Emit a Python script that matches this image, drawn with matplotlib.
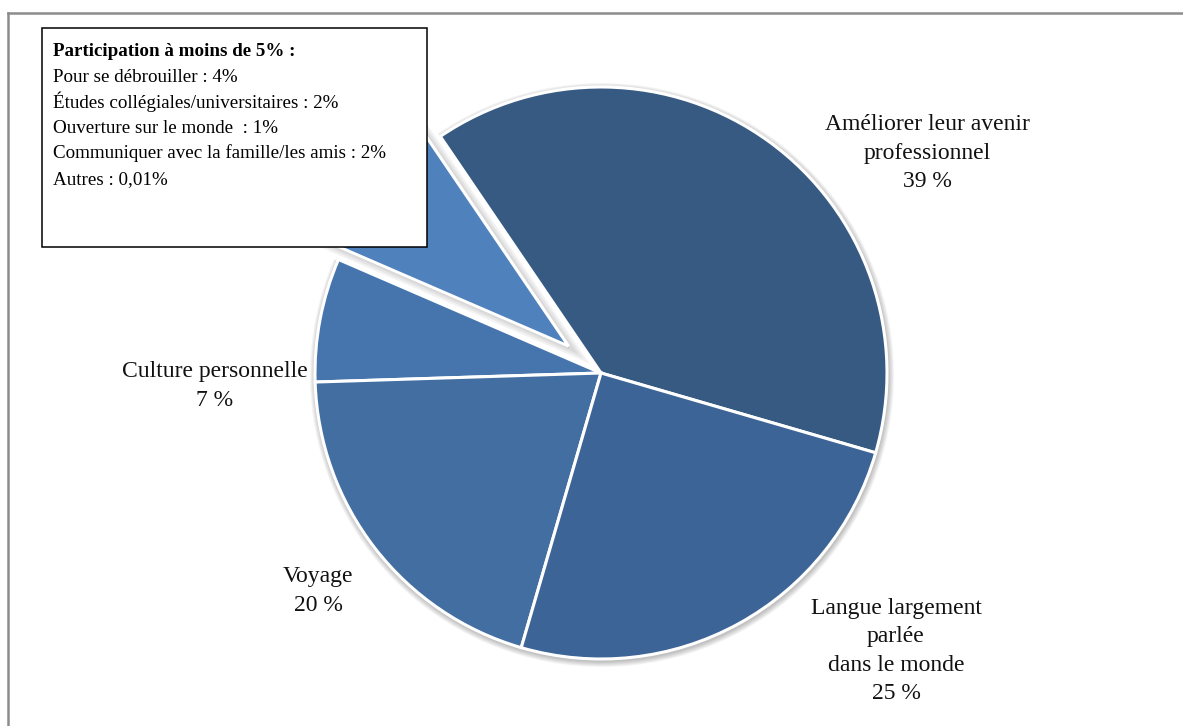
import matplotlib.pyplot as plt
import matplotlib.patheffects as pe
from matplotlib.patches import Rectangle
from matplotlib.lines import Line2D

# Main reasons (share of respondents, %)
categories = ["Améliorer leur avenir\nprofessionnel",
              "Participation à moins de 5%",
              "Culture personnelle",
              "Voyage",
              "Langue largement\nparlée\ndans le monde"]
main_values = [39, None, 7, 20, 25]

# Reasons under 5%, grouped into one exploded slice
minor_labels = ["Pour se débrouiller",
                "Études collégiales/universitaires",
                "Ouverture sur le monde ",
                "Communiquer avec la famille/les amis",
                "Autres"]
minor_values = [4, 2, 1, 2, 0.01]

values = [v if v is not None else sum(minor_values) for v in main_values]
colors = ["#375a83", "#4f81bd", "#4675ae", "#436ea2", "#3d6496"]

W, H = 1183, 726
cx, cy, R = 601, H - 373, 286
shift = 42  # explode distance in pixels
start = -16.2

plt.rcParams['font.family'] = ['Liberation Serif', 'DejaVu Serif']

fig = plt.figure(figsize=(W / 100, H / 100), dpi=100)
ax = fig.add_axes([0, 0, 1, 1])

# soft shadow under the pie: stacked translucent grey pies
for k in range(6):
    r = R + 1 + k
    ax.pie(values, radius=r, center=(cx + 1, cy - 2), startangle=start,
           explode=[0, shift, 0, 0, 0], colors=['#000000'] * 5,
           wedgeprops=dict(alpha=0.045, linewidth=0), frame=True)

wedges, _ = ax.pie(values, radius=R, center=(cx, cy), startangle=start,
                   explode=[0, shift, 0, 0, 0], colors=colors,
                   wedgeprops=dict(edgecolor='white', linewidth=2.2), frame=True)

# glow around the detached slice
glow = [pe.Stroke(linewidth=lw, foreground='black', alpha=0.05) for lw in (11, 8, 5)]
wedges[1].set_path_effects(glow + [pe.Normal()])
wedges[1].set_zorder(2)

# slice labels
label_pos = {0: (927, 153), 2: (215, 386), 3: (318, 591), 4: (896, 651)}
for i, (x, y) in label_pos.items():
    ax.text(x, H - y, f"{categories[i]}\n{values[i]:g} %", ha='center', va='center',
            multialignment='center', fontsize=17, linespacing=1.45, color='#111111')

# box listing the small categories
ax.add_patch(Rectangle((42, H - 247), 385, 219, facecolor='white', edgecolor='black',
                       linewidth=1.1, zorder=5))
ax.text(53, H - 56, categories[1] + " :", fontsize=13.7, fontweight='bold',
        va='baseline', ha='left', zorder=6)
for i, (name, v) in enumerate(zip(minor_labels, minor_values)):
    txt = f"{v:g}".replace('.', ',')
    ax.text(53, H - (82 + 25.5 * i), f"{name} : {txt}%", fontsize=13.7,
            va='baseline', ha='left', zorder=6)

# outer frame (top and left edges)
ax.add_line(Line2D([8, W], [H - 13, H - 13], color='#8c8c8c', linewidth=1.8))
ax.add_line(Line2D([8, 8], [H - 13, 0], color='#8c8c8c', linewidth=1.8))

ax.set_xlim(0, W)
ax.set_ylim(0, H)
ax.set_aspect('auto')
ax.axis('off')

fig.savefig('out.png', dpi=100)
